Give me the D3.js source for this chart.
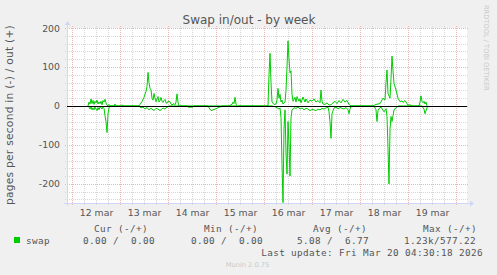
<!DOCTYPE html>
<html>
<head>
<meta charset="utf-8">
<script src="https://cdn.jsdelivr.net/npm/d3@7"></script>
<style>
  body { margin: 0; background: #f0f0f0; }
  text { font-family: "DejaVu Sans", sans-serif; fill: #555; }
  .mono { font-family: "DejaVu Sans Mono", monospace; font-size: 9.33px; letter-spacing: 0.38px; white-space: pre; }
</style>
</head>
<body>
<div class="chart"></div>
<script>
// Data (hours since 12 mar 00:00, pages per second)
var outHours = [8, 8.5, 9, 9.5, 10, 10.5, 11, 11.5, 12, 12.5, 13, 13.5, 14, 14.5, 15, 15.5, 16, 16.5, 17, 17.5, 18, 18.5, 19, 21, 21.5, 22, 24.5, 25, 25.5,
  33.5, 34, 35, 36, 37, 37.5, 38, 38.5, 39, 39.5, 40, 40.5, 41, 41.5, 42, 42.5, 43, 43.5, 44, 44.5, 45, 45.5, 46, 46.5, 47, 47.5, 48, 49, 49.5, 50, 51, 51.5, 52, 52.5, 53, 53.5,
  78.5, 79.5, 80, 80.5, 81, 81.5, 82, 82.5,
  98, 98.5, 99, 99.5, 100, 101, 102, 102.5, 103, 103.5, 104, 104.5, 105, 105.5, 106.5, 107, 107.5, 108, 108.5, 109, 109.5, 110, 110.5, 111.5, 112, 112.5, 113.5, 114, 114.5, 115.5, 116.5, 117, 118, 119, 120, 121, 122, 123, 124, 124.5, 125, 125.5, 126.5, 127.5, 128.5, 129.5, 130.5, 131.5, 132.5, 133.5, 134.5, 135.5, 136.5, 137.5, 138.5, 139.5,
  150.5, 152, 154, 155.5, 156.5, 157, 157.5, 158, 159, 159.5, 160, 160.5, 161, 162, 163, 164, 165, 165.5, 166.5, 167.5, 168, 169, 170,
  173.5, 174, 174.5, 175, 175.5, 176, 176.5, 177, 177.5];
var outValues = [0, 10, 5, 18, 6, 14, 4, 12, 8, 15, 5, 10, 6, 12, 3, 14, 10, 17, 8, 2, 0, 4, 0, 0, 5, 0, 0, 3, 0,
  0, 4, 11, 22, 37, 50, 86, 60, 45, 41, 20, 15, 32, 20, 11, 18, 24, 10, 14, 22, 12, 9, 14, 17, 8, 7, 12, 11, 5, 3, 6, 3, 10, 31, 10, 0,
  0, 3, 4, 10, 6, 22, 5, 0,
  0, 80, 135, 60, 10, 4, 5, 15, 45, 20, 30, 10, 15, 5, 10, 40, 100, 167, 120, 85, 90, 30, 12, 22, 10, 24, 12, 18, 8, 23, 10, 18, 8, 15, 12, 18, 10, 14, 8, 41, 12, 5, 4, 8, 2, 3, 8, 12, 6, 14, 8, 17, 10, 14, 4, 0,
  0, 4, 6, 20, 15, 60, 92, 32, 20, 70, 128, 90, 58, 41, 20, 11, 13, 9, 14, 6, 2, 3, 0,
  0, 10, 26, 12, 8, 12, 5, 10, 0];

var inHours = [8, 8.5, 9, 9.5, 10, 10.5, 11, 11.5, 12, 12.5, 13, 13.5, 14, 14.5, 15, 15.5, 16, 16.5, 17, 17.5, 18, 18.5, 19,
  33.5, 34.5, 35.5, 36.5, 37.5, 38.5, 39.5, 40.5, 41, 42, 43, 44, 44.5, 45.5, 46.5, 47.5, 48.5,
  57.5, 58, 60.5, 61, 68, 68.5, 69.5, 70.5, 71.5, 72.5, 73.5, 74.5, 75, 82, 82.5, 83,
  100, 102, 103.5, 104, 104.5, 105, 105.5, 106, 106.5, 107, 107.5, 108, 108.5, 109, 109.5, 110, 111, 112, 113, 114, 115, 116, 117, 118, 119, 120, 121, 122, 123, 124, 125, 126, 127, 128, 128.5, 129, 129.5, 130, 131, 132, 133, 134, 135, 136, 137, 138, 138.5, 139, 139.5,
  151, 152, 152.5, 153, 153.5, 154.5, 156, 157, 157.5, 158, 158.5, 159, 159.5, 160, 160.5, 161, 162, 163,
  175, 176, 176.5, 177, 177.5, 178];
var inValues = [0, 3, 8, 2, 10, 5, 10, 3, 8, 12, 4, 10, 2, 5, 8, 3, 6, 25, 40, 68, 20, 5, 0,
  0, 5, 3, 8, 4, 10, 6, 10, 12, 6, 8, 12, 10, 5, 8, 3, 0,
  0, 3, 3, 0, 0, 5, 12, 10, 8, 6, 3, 2, 0, 0, 3, 0,
  0, 3, 8, 5, 30, 150, 248, 60, 10, 120, 175, 40, 100, 180, 30, 10, 5, 6, 3, 8, 5, 10, 6, 8, 12, 9, 10, 12, 8, 10, 6, 8, 5, 3, 15, 40, 83, 20, 5, 3, 8, 4, 6, 8, 4, 10, 20, 8, 0,
  0, 10, 40, 12, 7, 3, 15, 7, 27, 110, 200, 60, 27, 40, 25, 10, 5, 0,
  0, 8, 20, 12, 5, 0];

var dayLabels = ["12 mar", "13 mar", "14 mar", "15 mar", "16 mar", "17 mar", "18 mar", "19 mar"];
var yTicks = [-200, -100, 0, 100, 200];
var legendHeaders = ["Cur (-/+)", "Min (-/+)", "Avg (-/+)", "Max (-/+)"];
var legendValues = ["0.00 /  0.00", "0.00 /  0.00", "5.08 /  6.77", "1.23k/577.22"];
var seriesName = "swap";

var svgWidth = 497;
var svgHeight = 275;
var plot = { left: 67, right: 467, top: 28, bottom: 203 };

var t0 = Date.UTC(2026, 2, 12);
function toDate(h) { return new Date(t0 + h * 3600e3); }

var svg = d3.select(".chart")
  .append("svg")
  .attr("width", svgWidth)
  .attr("height", svgHeight)
  .style("display", "block");

svg.append("rect").attr("width", svgWidth).attr("height", svgHeight).attr("fill", "#f0f0f0");

var x = d3.scaleUtc()
  .domain([toDate(-2.5), toDate(197.5)])
  .range([plot.left, plot.right]);

var y = d3.scaleLinear()
  .domain([-249, 200])
  .range([plot.bottom, plot.top]);

// canvas
svg.append("rect")
  .attr("x", plot.left).attr("y", plot.top)
  .attr("width", plot.right - plot.left).attr("height", plot.bottom - plot.top)
  .attr("fill", "#fff");

// grid values
var dayTicks = d3.range(0, 8 * 24 + 1, 24).map(toDate);
var sixHourTicks = d3.range(6, 198, 6).filter(h => h % 24 !== 0).map(toDate);
var noonTicks = dayLabels.map((d, i) => toDate(12 + 24 * i));
var yMinor = d3.range(-240, 201, 20).filter(v => v % 100 !== 0);

function gridStyle(g, color) {
  g.select(".domain").remove();
  g.selectAll("line")
    .attr("stroke", color)
    .attr("stroke-dasharray", "1,1")
    .attr("shape-rendering", "crispEdges");
}

var minorColor = "#d6d6d6";
var majorColor = "#efb4b4";

// minor grid
svg.append("g")
  .attr("transform", `translate(0, ${plot.bottom + 2})`)
  .call(d3.axisBottom(x).tickValues(sixHourTicks).tickSize(-(plot.bottom - plot.top + 4)).tickFormat(""))
  .call(gridStyle, minorColor);
svg.append("g")
  .attr("transform", `translate(${plot.left - 2}, 0)`)
  .call(d3.axisLeft(y).tickValues(yMinor).tickSize(-(plot.right - plot.left + 4)).tickFormat(""))
  .call(gridStyle, minorColor);

// major grid
svg.append("g")
  .attr("transform", `translate(0, ${plot.bottom + 2})`)
  .call(d3.axisBottom(x).tickValues(dayTicks).tickSize(-(plot.bottom - plot.top + 4)).tickFormat(""))
  .call(gridStyle, majorColor);
svg.append("g")
  .attr("transform", `translate(${plot.left - 2}, 0)`)
  .call(d3.axisLeft(y).tickValues(yTicks).tickSize(-(plot.right - plot.left + 4)).tickFormat(""))
  .call(gridStyle, majorColor);

// axis lines + arrows
var axisColor = "#cfd6f8";
svg.append("line")
  .attr("x1", plot.left - 3).attr("x2", plot.right + 4)
  .attr("y1", plot.bottom + 0.5).attr("y2", plot.bottom + 0.5)
  .attr("stroke", axisColor);
svg.append("path")
  .attr("d", `M${plot.right + 3},${plot.bottom - 2.5}L${plot.right + 7},${plot.bottom + 0.5}L${plot.right + 3},${plot.bottom + 3.5}Z`)
  .attr("fill", axisColor);
svg.append("line")
  .attr("x1", plot.left + 0.5).attr("x2", plot.left + 0.5)
  .attr("y1", plot.bottom + 3).attr("y2", plot.top - 4)
  .attr("stroke", axisColor);
svg.append("path")
  .attr("d", `M${plot.left - 2.5},${plot.top - 3}L${plot.left + 0.5},${plot.top - 7}L${plot.left + 3.5},${plot.top - 3}Z`)
  .attr("fill", axisColor);

// tick labels
var xAxis = svg.append("g")
  .attr("transform", `translate(0, ${plot.bottom})`)
  .call(d3.axisBottom(x).tickValues(noonTicks).tickSize(0).tickPadding(6.5)
    .tickFormat((d, i) => dayLabels[i]));
xAxis.select(".domain").remove();
xAxis.selectAll("text").style("font-size", "9.33px").attr("fill", "#555");

var yAxis = svg.append("g")
  .attr("transform", `translate(${plot.left}, 0)`)
  .call(d3.axisLeft(y).tickValues(yTicks).tickSize(0).tickPadding(7)
    .tickFormat(d => String(d)));
yAxis.select(".domain").remove();
yAxis.selectAll("text").style("font-size", "9.33px").attr("fill", "#555");

// series
var outData = outHours.map((h, i) => ({ t: toDate(h), v: outValues[i] }));
var inData = inHours.map((h, i) => ({ t: toDate(h), v: -inValues[i] }));

var line = d3.line()
  .x(d => x(d.t))
  .y(d => y(d.v));

[inData, outData].forEach(function (data) {
  svg.append("path")
    .datum(data)
    .attr("d", line)
    .attr("fill", "none")
    .attr("stroke", "#00cc00")
    .attr("stroke-width", 1);
});

// zero line
svg.append("line")
  .attr("x1", plot.left).attr("x2", plot.right)
  .attr("y1", Math.round(y(0)) + 0.5).attr("y2", Math.round(y(0)) + 0.5)
  .attr("stroke", "#000")
  .attr("shape-rendering", "crispEdges");

// title and axis label
svg.append("text")
  .attr("x", 249).attr("y", 23.5)
  .attr("text-anchor", "middle")
  .style("font-size", "12px")
  .attr("fill", "#444")
  .text("Swap in/out - by week");

svg.append("text")
  .attr("transform", "translate(13, 115) rotate(-90)")
  .attr("text-anchor", "middle")
  .style("font-size", "10.67px")
  .style("letter-spacing", "0.25px")
  .text("pages per second in (-) / out (+)");

svg.append("text")
  .attr("transform", "translate(484, 5) rotate(90)")
  .style("font-size", "6.67px")
  .style("fill", "#c8c8c8")
  .text("RRDTOOL / TOBI OETIKER");

// legend
var headerX = [94, 204, 313, 423];
var valueX = [83, 191, 297, 404];
svg.selectAll(".lh")
  .data(legendHeaders)
  .enter()
  .append("text")
  .attr("class", "mono")
  .attr("x", (d, i) => headerX[i])
  .attr("y", 231.5)
  .text(d => d);

svg.append("rect")
  .attr("x", 14).attr("y", 237).attr("width", 6).attr("height", 6)
  .attr("fill", "#00cc00");
svg.append("text")
  .attr("class", "mono")
  .attr("x", 26).attr("y", 243.5)
  .text(seriesName);
svg.selectAll(".lv")
  .data(legendValues)
  .enter()
  .append("text")
  .attr("class", "mono")
  .attr("x", (d, i) => valueX[i])
  .attr("y", 243.5)
  .text(d => d);

svg.append("text")
  .attr("class", "mono")
  .attr("x", 483).attr("y", 255.5)
  .attr("text-anchor", "end")
  .text("Last update: Fri Mar 20 04:30:18 2026");

svg.append("text")
  .attr("x", 247.5).attr("y", 266.5)
  .attr("text-anchor", "middle")
  .style("font-size", "6.67px")
  .style("fill", "#c8c8c8")
  .text("Munin 2.0.75");
</script>
</body>
</html>
